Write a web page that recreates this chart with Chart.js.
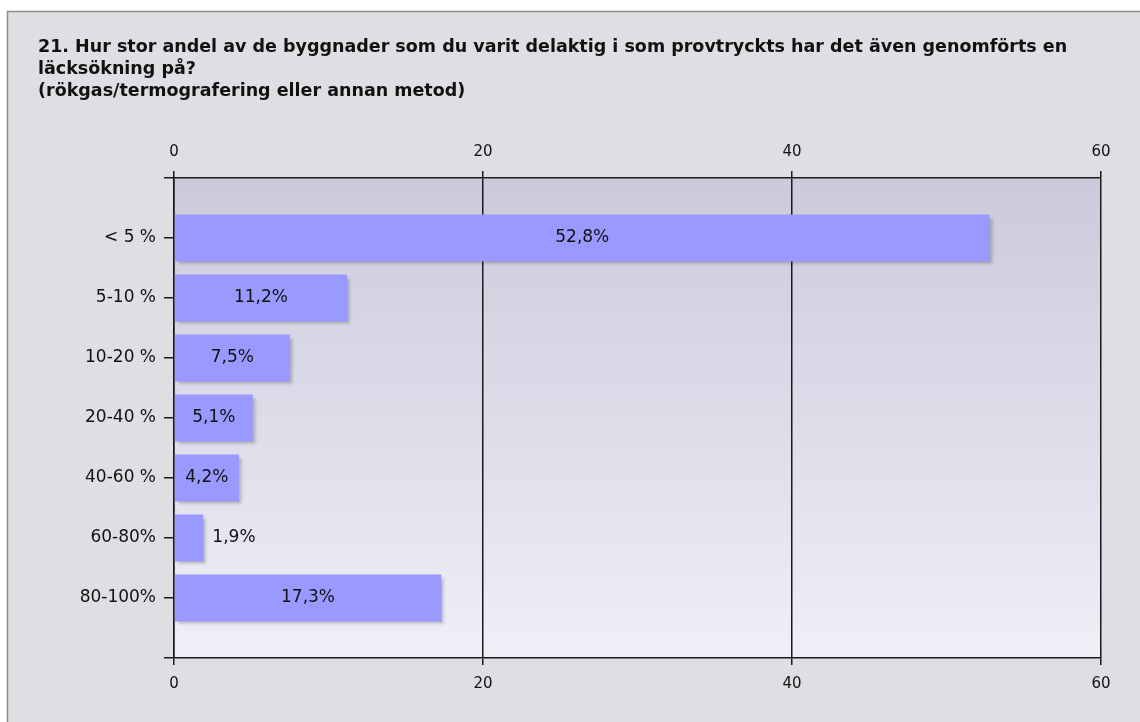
<!DOCTYPE html>
<html>
<head>
<meta charset="utf-8">
<script src="https://cdn.jsdelivr.net/npm/chart.js@4.4.1/dist/chart.umd.min.js"></script>
<style>
  body { margin: 0; background: #fff; }
  canvas { display: block; }
</style>
</head>
<body>
<canvas id="surveyChart" width="1140" height="722"></canvas>
<script>
// data
var titleLines = [
  '21. Hur stor andel av de byggnader som du varit delaktig i som provtryckts har det även genomförts en',
  'läcksökning på?',
  '(rökgas/termografering eller annan metod)'
];
var categories = ['< 5 %', '5-10 %', '10-20 %', '20-40 %', '40-60 %', '60-80%', '80-100%'];
var shares = [52.8, 11.2, 7.5, 5.1, 4.2, 1.9, 17.3];
var axisTicks = [0, 20, 40, 60];

// empty slot at each end so the ticks sit on the plot border
var yLabels = [''].concat(categories, ['']);
var yValues = [null].concat(shares, [null]);

var lineColor = '#1a1a1a';

function formatShare(v) {
  return v.toFixed(1).replace('.', ',') + '%';
}

var backdropPlugin = {
  id: 'backdrop',
  beforeDraw: function(chart) {
    var ctx = chart.ctx;
    var area = chart.chartArea;
    ctx.save();
    ctx.fillStyle = '#ffffff';
    ctx.fillRect(0, 0, chart.width, chart.height);
    ctx.fillStyle = '#dfdfe3';
    ctx.fillRect(7, 11, chart.width, chart.height);
    ctx.strokeStyle = '#8c8c8c';
    ctx.lineWidth = 1.5;
    ctx.beginPath();
    ctx.moveTo(7.5, chart.height);
    ctx.lineTo(7.5, 11.5);
    ctx.lineTo(chart.width, 11.5);
    ctx.stroke();
    var grad = ctx.createLinearGradient(0, area.top, 0, area.bottom);
    grad.addColorStop(0, '#cacadb');
    grad.addColorStop(1, '#efeff8');
    ctx.fillStyle = grad;
    ctx.fillRect(area.left, area.top, area.right - area.left, area.bottom - area.top);
    ctx.restore();
  }
};

var barShadowPlugin = {
  id: 'barShadow',
  beforeDatasetDraw: function(chart) {
    var ctx = chart.ctx;
    ctx.save();
    ctx.shadowColor = 'rgba(0, 0, 0, 0.22)';
    ctx.shadowOffsetX = 3;
    ctx.shadowOffsetY = 3;
    ctx.shadowBlur = 3;
  },
  afterDatasetDraw: function(chart) {
    chart.ctx.restore();
  }
};

var valueLabelPlugin = {
  id: 'valueLabels',
  afterDatasetsDraw: function(chart) {
    var ctx = chart.ctx;
    var meta = chart.getDatasetMeta(0);
    ctx.save();
    ctx.font = '17px "DejaVu Sans"';
    ctx.fillStyle = '#111';
    ctx.textBaseline = 'middle';
    meta.data.forEach(function(bar, i) {
      var v = yValues[i];
      if (v === null) return;
      var text = formatShare(v);
      var w = ctx.measureText(text).width;
      var barW = bar.x - bar.base;
      if (w + 8 < barW) {
        ctx.textAlign = 'center';
        ctx.fillText(text, (bar.x + bar.base) / 2, bar.y);
      } else {
        ctx.textAlign = 'left';
        ctx.fillText(text, bar.x + 9, bar.y);
      }
    });
    ctx.restore();
  }
};

new Chart(document.getElementById('surveyChart'), {
  type: 'bar',
  data: {
    labels: yLabels,
    datasets: [{
      data: yValues,
      backgroundColor: '#9999ff',
      borderWidth: 0,
      barPercentage: 0.78,
      categoryPercentage: 1
    }]
  },
  plugins: [backdropPlugin, barShadowPlugin, valueLabelPlugin],
  options: {
    indexAxis: 'y',
    responsive: false,
    animation: false,
    layout: { padding: { left: 38, right: 39, top: 0, bottom: 0 } },
    plugins: {
      legend: { display: false },
      tooltip: { enabled: false },
      title: {
        display: true,
        text: titleLines,
        align: 'start',
        color: '#111',
        font: { family: 'DejaVu Sans', size: 17.5, weight: 'bold', lineHeight: 1.257 },
        padding: { top: 36, bottom: 0 }
      }
    },
    scales: {
      x: {
        position: 'top',
        min: 0,
        max: 60,
        afterBuildTicks: function(scale) {
          scale.ticks = axisTicks.map(function(v) { return { value: v }; });
        },
        afterFit: function(scale) { scale.height = 76; },
        grid: { color: lineColor, lineWidth: 1.5, tickLength: 7, drawOnChartArea: true },
        border: { color: lineColor, width: 1.5 },
        ticks: { color: '#111', padding: 10, font: { family: 'DejaVu Sans', size: 15 } }
      },
      x2: {
        axis: 'x',
        position: 'bottom',
        min: 0,
        max: 60,
        afterBuildTicks: function(scale) {
          scale.ticks = axisTicks.map(function(v) { return { value: v }; });
        },
        afterFit: function(scale) { scale.height = 64; },
        grid: { color: lineColor, lineWidth: 1.5, tickLength: 7, drawOnChartArea: false },
        border: { color: lineColor, width: 1.5 },
        ticks: { color: '#111', padding: 10, font: { family: 'DejaVu Sans', size: 15 } }
      },
      y: {
        type: 'category',
        offset: false,
        afterFit: function(scale) { scale.width = 136; },
        grid: { color: lineColor, lineWidth: 1.5, tickLength: 10, offset: false, drawOnChartArea: false },
        border: { color: lineColor, width: 1.5 },
        ticks: { color: '#111', padding: 8, autoSkip: false, font: { family: 'DejaVu Sans', size: 17 } }
      }
    }
  }
});
</script>
</body>
</html>
